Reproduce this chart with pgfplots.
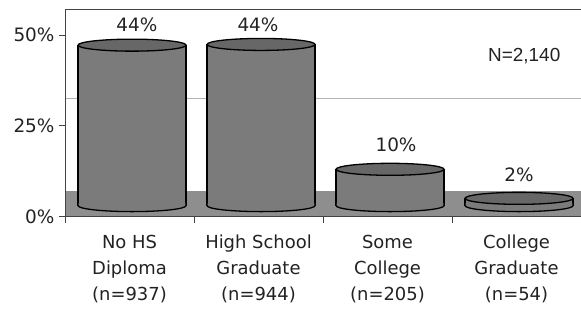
\documentclass[border=0pt]{standalone}
\usepackage{pgfplots}
\usepackage{pgfplotstable}
\pgfplotsset{compat=1.18}
\usepackage{fontspec}
\setmainfont{DejaVu Sans}
\newfontfamily\arialf{Liberation Sans}
\definecolor{bodygray}{HTML}{7B7B7B}
\definecolor{topgray}{HTML}{676767}
\definecolor{floorgray}{HTML}{8E8E8E}
\definecolor{gridgray}{HTML}{B4B4B4}
\definecolor{txt}{HTML}{222222}
\definecolor{axgray}{HTML}{444444}

\pgfdeclareplotmark{cyltop}{%
  \pgfsetfillcolor{topgray}\pgfsetstrokecolor{black}\pgfsetlinewidth{1.3bp}%
  \pgfpathellipse{\pgfpointorigin}{\pgfqpoint{54bp}{0bp}}{\pgfqpoint{0bp}{6bp}}%
  \pgfusepathqfillstroke}
\pgfdeclareplotmark{cylbot}{%
  \pgfsetfillcolor{bodygray}\pgfsetstrokecolor{black}\pgfsetlinewidth{1.3bp}%
  \pgfpathmoveto{\pgfqpoint{-54bp}{2bp}}%
  \pgfpathlineto{\pgfqpoint{-54bp}{0bp}}%
  \pgfpatharc{180}{360}{54bp and 6bp}%
  \pgfpathlineto{\pgfqpoint{54bp}{2bp}}%
  \pgfusepathqfillstroke}

% bar x (with slight depth shift), value, label x, label y, label
\pgfplotstableread{
x     y     lx     ly     lab
0.02  44.2  0.058  49.75  44
1.02  44.4  0.996  49.75  44
2.02  10.0  2.066  16.83  10
3.02  2.0   3.019  8.43   2
}\bars

\begin{document}
\begin{tikzpicture}[font=\fontsize{18}{26}\selectfont, text=txt]
% background axis: walls, floor, ticks, labels
\begin{axis}[
  at={(0,0)}, anchor=south west,
  scale only axis, width=516bp, height=207.5bp,
  xmin=-0.5, xmax=3.5, ymin=0, ymax=57.16,
  axis lines*=left,
  axis line style={axgray, line width=0.9bp},
  axis on top,
  tick align=outside,
  major tick length=6bp,
  tick style={axgray, line width=0.9bp},
  ytick={0,25,50},
  yticklabels={0\%,25\%,50\%},
  y tick label style={font=\fontsize{18.5}{22}\selectfont, xshift=-1bp},
  xtick={-0.5,0.5,1.5,2.5},
  xticklabels={},
  extra x ticks={0,1,2,3},
  extra x tick labels={{No HS\\Diploma\\(n=937)},{High School\\Graduate\\(n=944)},{Some\\College\\(n=205)},{College\\Graduate\\(n=54)}},
  extra x tick style={major tick length=0pt,
    tick label style={align=center, anchor=north, yshift=-15bp, font=\fontsize{18}{26}\selectfont}},
  clip=false,
]
\addplot[fill=floorgray, draw=none] coordinates {(-0.5,7.0) (3.5,7.0)} \closedcycle;
\addplot[gridgray, line width=0.8bp] coordinates {(-0.5,32.4) (3.5,32.4)};
\addplot[axgray, line width=0.9bp] coordinates {(-0.5,57.16) (3.5,57.16)};
\node[font=\arialf\fontsize{19}{22}\selectfont, text=txt] at (axis cs:3.06,44.2) {N=2,140};
\end{axis}
% cylinders axis (y shifted so that 0 sits at the cylinder bases)
\begin{axis}[
  at={(0,0)}, anchor=south west,
  scale only axis, width=516bp, height=207.5bp,
  xmin=-0.5, xmax=3.5, ymin=-3.0, ymax=54.16,
  hide axis, clip=false,
]
\addplot[ybar, bar width=108bp, bar shift=0pt, fill=bodygray, draw=black, line width=1.3bp] table[x=x, y=y] {\bars};
\addplot[only marks, mark=cylbot] table[x=x, y expr=0] {\bars};
\addplot[only marks, mark=cyltop] table[x=x, y=y] {\bars};
\addplot[only marks, mark=none, point meta=explicit symbolic,
  nodes near coords={\pgfplotspointmeta\%},
  every node near coord/.append style={anchor=center, text=txt, font=\fontsize{18.5}{22}\selectfont, inner sep=0pt}]
  table[x=lx, y=ly, meta=lab] {\bars};
\end{axis}
\pgfresetboundingbox
\useasboundingbox (-65bp,-92.5bp) rectangle (516bp,216.5bp);
\end{tikzpicture}
\end{document}
